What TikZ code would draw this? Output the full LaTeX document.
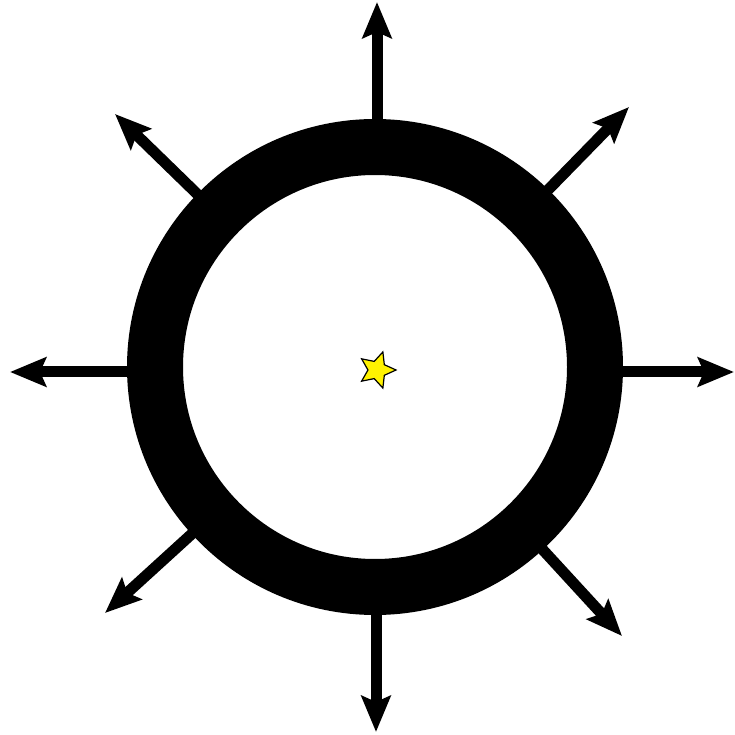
\documentclass[tikz,border=0pt]{standalone}
\usetikzlibrary{arrows.meta,calc,shapes.geometric}
\begin{document}
\begin{tikzpicture}[x=1pt,y=1pt,
  ray/.style={line width=11pt,-{Stealth[length=36pt,width=29pt,inset=6pt]}},
  ring/.style={line width=56pt,draw=black}]
\useasboundingbox (0,0) rectangle (735,734);
\coordinate (c) at (375,367);
\coordinate (tT) at (377,732);
\coordinate (tB) at (376,2);
\coordinate (tL) at (10,362);
\coordinate (tR) at (734,362);
\coordinate (tUR) at (629,627);
\coordinate (tUL) at (115,620);
\coordinate (tLL) at (105,121);
\coordinate (tLR) at (622,98);
\coordinate (stT) at (377,587);
\coordinate (stB) at (376,147);
\coordinate (stL) at (155,362);
\coordinate (stR) at (595,362);
\foreach \t in {tUR,tUL,tLL,tLR}{
  \coordinate (s\t) at ($(c)!220pt!(\t)$);
}
\foreach \t in {tT,tB,tL,tR,tUR,tUL,tLL,tLR}{
  \draw[ray] (s\t) -- (\t);
}
\draw[ring] (c) circle[radius=220pt];
\node[star,star points=5,star point ratio=2.1,minimum size=38pt,inner sep=0pt,
  rotate=-18,fill=yellow,draw=black,line width=1.2pt] (st) at (377,364) {};
\end{tikzpicture}
\end{document}
